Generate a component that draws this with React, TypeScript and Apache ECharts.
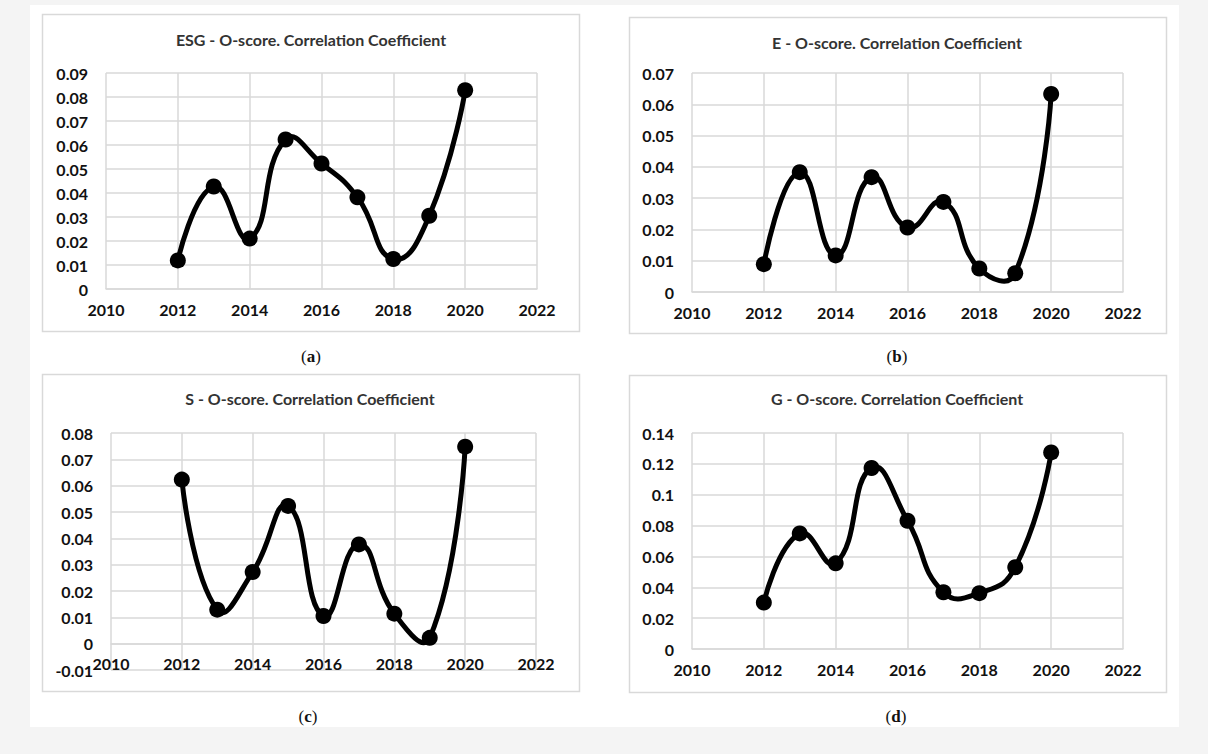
import React, { useEffect, useRef } from "react";
import * as echarts from "echarts";

// Years shown on every panel
const years = [2012, 2013, 2014, 2015, 2016, 2017, 2018, 2019, 2020];

// Correlation coefficients with the O-score, per year
const esgValues = [0.0119, 0.0427, 0.021, 0.0623, 0.0523, 0.0382, 0.0125, 0.0305, 0.0828];
const eValues = [0.0089, 0.0383, 0.0117, 0.0367, 0.0206, 0.0288, 0.0075, 0.006, 0.0633];
const sValues = [0.0623, 0.0129, 0.0272, 0.0523, 0.0105, 0.0377, 0.0114, 0.0022, 0.0748];
const gValues = [0.0301, 0.0749, 0.0555, 0.1173, 0.0831, 0.0368, 0.0362, 0.053, 0.1274];

const panelTitles = [
  "ESG - O-score. Correlation Coefficient",
  "E - O-score. Correlation Coefficient",
  "S - O-score. Correlation Coefficient",
  "G - O-score. Correlation Coefficient",
];
const panelLetters = ["a", "b", "c", "d"];

// Axis ranges per panel
const yMins = [0, 0, -0.01, 0];
const yMaxs = [0.09, 0.07, 0.08, 0.14];
const yIntervals = [0.01, 0.01, 0.01, 0.02];
const xMin = 2010;
const xMax = 2022;
const xInterval = 2;

const GRID_GRAY = "#d9d9d9";
const FONT = "Lato, 'Open Sans', sans-serif";
const SMOOTH = 0.5;

// Smooth curve through pixel points; control points follow neighbour
// direction weighted by segment lengths (no clamping, so it may dip).
function smoothPath(pts: number[][]): string {
  const n = pts.length;
  const cpIn: number[][] = [];
  const cpOut: number[][] = [];
  for (let i = 0; i < n; i++) {
    const cur = pts[i];
    if (i === 0 || i === n - 1) {
      cpIn.push(cur);
      cpOut.push(cur);
      continue;
    }
    const prev = pts[i - 1];
    const next = pts[i + 1];
    const vx = next[0] - prev[0];
    const vy = next[1] - prev[1];
    const lp = Math.hypot(cur[0] - prev[0], cur[1] - prev[1]);
    const ln = Math.hypot(next[0] - cur[0], next[1] - cur[1]);
    const r = lp + ln > 0 ? ln / (lp + ln) : 0.5;
    cpIn.push([cur[0] - vx * SMOOTH * (1 - r), cur[1] - vy * SMOOTH * (1 - r)]);
    cpOut.push([cur[0] + vx * SMOOTH * r, cur[1] + vy * SMOOTH * r]);
  }
  let d = `M${pts[0][0]},${pts[0][1]}`;
  for (let i = 1; i < n; i++) {
    d += ` C${cpOut[i - 1][0]},${cpOut[i - 1][1]} ${cpIn[i][0]},${cpIn[i][1]} ${pts[i][0]},${pts[i][1]}`;
  }
  return d;
}

export default function App() {
  const ref = useRef<HTMLDivElement>(null);

  useEffect(() => {
    if (!ref.current) return;
    const chart = echarts.init(ref.current, undefined, { renderer: "svg" });

    const seriesValues = [esgValues, eValues, sValues, gValues];

    // layout of each panel: plot grid, outer frame, title and caption anchor
    const grids = [
      { left: 106, top: 73, width: 431, height: 216 },
      { left: 692, top: 73, width: 431, height: 219 },
      { left: 111, top: 433, width: 425, height: 237 },
      { left: 692, top: 433, width: 431, height: 216 },
    ];
    const frames = [
      { x: 42, y: 14, w: 537, h: 317 },
      { x: 629, y: 17, w: 537, h: 316 },
      { x: 42, y: 374, w: 537, h: 317 },
      { x: 629, y: 375, w: 537, h: 317 },
    ];
    const titlePos = [
      [311, 39],
      [897, 42],
      [310, 398],
      [897, 398],
    ];
    const captionPos = [
      [311, 356],
      [897, 356],
      [308, 716],
      [896, 716],
    ];

    const graphics: any[] = [
      { type: "rect", shape: { x: 0, y: 0, width: 1208, height: 754 }, style: { fill: "#f4f4f4" }, z: -10 },
      { type: "rect", shape: { x: 30, y: 5, width: 1149, height: 722 }, style: { fill: "#ffffff" }, z: -9 },
    ];
    frames.forEach((f) => {
      graphics.push({
        type: "rect",
        shape: { x: f.x + 0.5, y: f.y + 0.5, width: f.w, height: f.h },
        style: { fill: "#ffffff", stroke: GRID_GRAY, lineWidth: 1.5 },
        z: -8,
      });
    });
    panelTitles.forEach((t, i) => {
      graphics.push({
        type: "text",
        x: titlePos[i][0],
        y: titlePos[i][1],
        style: {
          text: t,
          fill: "#333333",
          font: `bold 16px ${FONT}`,
          textAlign: "center",
          textVerticalAlign: "middle",
        },
      });
    });
    panelLetters.forEach((l, i) => {
      graphics.push({
        type: "text",
        x: captionPos[i][0],
        y: captionPos[i][1],
        style: {
          text: `{p|(}{b|${l}}{p|)}`,
          textAlign: "center",
          textVerticalAlign: "middle",
          rich: {
            p: { fontFamily: "'Liberation Serif', serif", fontSize: 17, fill: "#111" },
            b: { fontFamily: "'Liberation Serif', serif", fontSize: 17, fontWeight: "bold", fill: "#111" },
          },
        },
      });
    });

    // the horizontal axis sits on the zero line of each panel
    const xOffsets = grids.map((g, i) =>
      yMins[i] < 0 ? -(g.height * (0 - yMins[i])) / (yMaxs[i] - yMins[i]) : 0
    );

    const series: any[] = [];
    seriesValues.forEach((vals, i) => {
      const data = years.map((y, k) => [y, vals[k]]);
      series.push({
        type: "custom",
        xAxisIndex: i,
        yAxisIndex: i,
        clip: false,
        data,
        z: 4,
        renderItem: (params: any, api: any) => {
          if (params.dataIndex !== 0) return null;
          const pts = data.map((p) => api.coord(p));
          return {
            type: "path",
            shape: { pathData: smoothPath(pts) },
            style: { stroke: "#000", lineWidth: 5, fill: "none", lineJoin: "round", lineCap: "round" },
          };
        },
      });
      series.push({
        type: "scatter",
        xAxisIndex: i,
        yAxisIndex: i,
        data,
        symbol: "circle",
        symbolSize: 16,
        itemStyle: { color: "#000", opacity: 1 },
        z: 5,
      });
    });

    const option: any = {
      animation: false,
      graphic: graphics,
      grid: grids.map((g) => ({ ...g, containLabel: false })),
      xAxis: grids.map((_, i) => ({
        type: "value",
        gridIndex: i,
        min: xMin,
        max: xMax,
        interval: xInterval,
        offset: xOffsets[i],
        axisLine: { show: true, onZero: false, lineStyle: { color: GRID_GRAY, width: 1.5 } },
        axisTick: { show: false },
        axisLabel: {
          margin: 12,
          color: "#111",
          fontFamily: FONT,
          fontWeight: "bold",
          fontSize: 16,
          formatter: (v: number) => String(v),
        },
        splitLine: { show: true, lineStyle: { color: GRID_GRAY, width: 1.5 } },
      })),
      yAxis: grids.map((_, i) => ({
        type: "value",
        gridIndex: i,
        min: yMins[i],
        max: yMaxs[i],
        interval: yIntervals[i],
        axisLine: { show: false, onZero: false },
        axisTick: { show: false },
        axisLabel: {
          margin: 18,
          color: "#111",
          fontFamily: FONT,
          fontWeight: "bold",
          fontSize: 16,
        },
        splitLine: { show: true, lineStyle: { color: GRID_GRAY, width: 1.5 } },
      })),
      series,
    };

    chart.setOption(option);
    return () => chart.dispose();
  }, []);

  return (
    <div
      ref={ref}
      style={{ position: "absolute", left: 0, top: 0, width: 1208, height: 754 }}
    />
  );
}
